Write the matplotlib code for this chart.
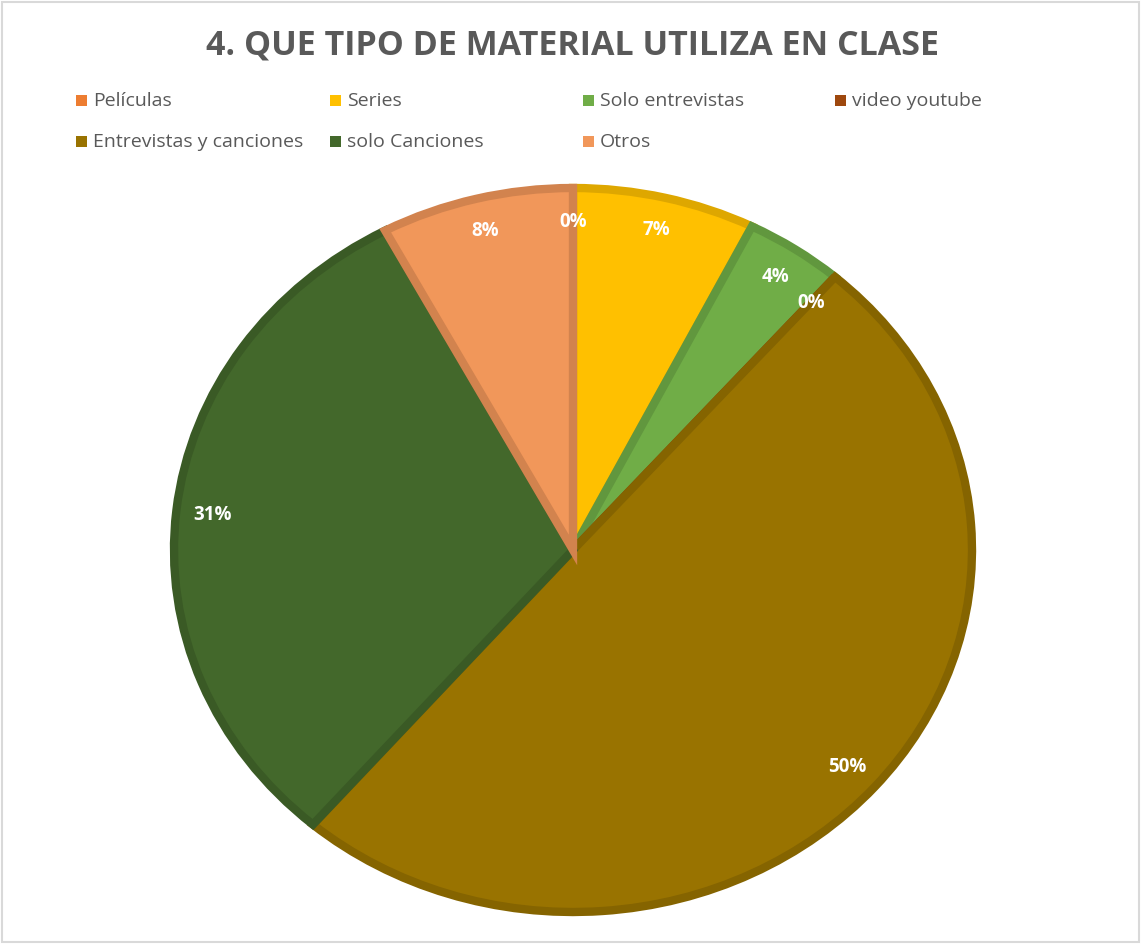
import numpy as np
import matplotlib
matplotlib.use('Agg')
import matplotlib.pyplot as plt
from matplotlib.patches import Rectangle
from matplotlib.colors import to_rgb

# Data (percent of answers)
categories = ['Películas', 'Series', 'Solo entrevistas', 'video youtube',
              'Entrevistas y canciones', 'solo Canciones', 'Otros']
values = [0, 7.4, 4.0, 0, 49.9, 30.9, 7.8]
colors = ['#ED7D31', '#FFC000', '#70AD47', '#9E480E',
          '#997300', '#43682B', '#F1975A']
title = '4. QUE TIPO DE MATERIAL UTILIZA EN CLASE'

W, H = 1142, 945
fig = plt.figure(figsize=(W / 100, H / 100), dpi=100)
fig.patch.set_facecolor('white')


def darker(c, f=0.87):
    r, g, b = to_rgb(c)
    return (r * f, g * f, b * f)


# Chart area border
fig.patches.append(Rectangle((2 / W, 2 / H), (W - 5) / W, (H - 5) / H,
                             transform=fig.transFigure, fill=False,
                             edgecolor='#D9D9D9', linewidth=1.5))

# Pie axes (the source image is stretched a little horizontally)
cx, cy, rx, ry = 573, 551, 399, 362
ax = fig.add_axes([(cx - rx) / W, 1 - (cy + ry) / H, 2 * rx / W, 2 * ry / H])
wedges, _ = ax.pie(values, colors=colors, startangle=90, counterclock=False,
                   radius=1.0,
                   wedgeprops=dict(linewidth=6, joinstyle='miter'))
for w, c in zip(wedges, colors):
    w.set_edgecolor(darker(c))
ax.set_aspect('auto')
ax.set_xlim(-1, 1)
ax.set_ylim(-1, 1)
ax.axis('off')

# Data labels (inside end)
total = sum(values)
for w, v in zip(wedges, values):
    mid = np.deg2rad((w.theta1 + w.theta2) / 2)
    ax.text(0.91 * np.cos(mid), 0.91 * np.sin(mid), f'{round(v / total * 100)}%',
            ha='center', va='center', color='white', fontsize=13.5,
            fontweight='bold', family='Open Sans')

# Title
fig.text(572 / W, 1 - 45 / H, title, ha='center', va='center',
         fontsize=24.5, fontweight='bold', color='#595959', family='Open Sans')

# Legend, 4 columns x 2 rows
col_x = [76, 330, 583, 835]
row_y = [101, 142]
for i, (name, c) in enumerate(zip(categories, colors)):
    x = col_x[i % 4]
    y = row_y[i // 4]
    fig.patches.append(Rectangle((x / W, 1 - (y + 5.5) / H), 11 / W, 11 / H,
                                 transform=fig.transFigure, facecolor=c,
                                 edgecolor='none'))
    fig.text((x + 17) / W, 1 - y / H, name, ha='left', va='center',
             fontsize=14, color='#595959', family='Open Sans')

fig.savefig('out.png', dpi=100, facecolor='white')
